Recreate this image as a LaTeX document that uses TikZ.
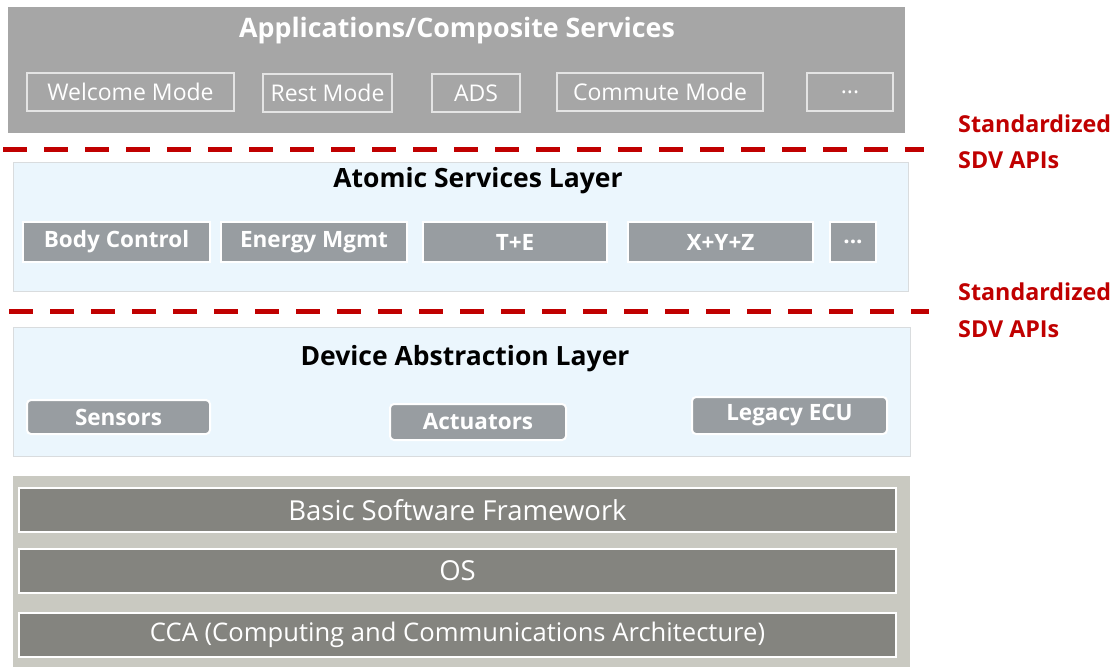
\documentclass[tikz,border=0pt]{standalone}
\usepackage{fontspec}
\setmainfont{Open Sans}
\definecolor{topgray}{HTML}{A6A6A6}
\definecolor{appline}{HTML}{E4E4E4}
\definecolor{sdvred}{HTML}{C00000}
\definecolor{lightblue}{HTML}{EBF6FD}
\definecolor{layerline}{HTML}{D9DCDE}
\definecolor{svcgray}{HTML}{989DA1}
\definecolor{basebg}{HTML}{C9C9C1}
\definecolor{bargray}{HTML}{84847F}
\tikzset{
  box/.style={inner sep=0pt, outer sep=0pt, anchor=center},
  appbox/.style={box, draw=appline, line width=1.2pt, fill=topgray, text=white, font=\fontsize{23}{26}\selectfont},
  layer/.style={box, draw=layerline, line width=1pt, fill=lightblue},
  layertitle/.style={inner sep=0pt, text=black, font=\bfseries\fontsize{26.5}{30}\selectfont},
  svcbox/.style={box, draw=white, line width=2pt, fill=svcgray, text=white, font=\bfseries\fontsize{22.5}{26}\selectfont},
  devbox/.style={svcbox, rounded corners=4pt},
  barbox/.style={box, draw=white, line width=1.5pt, fill=bargray, text=white, font=\fontsize{27.5}{31}\selectfont},
  apiline/.style={draw=sdvred, line width=5pt, dash pattern=on 24pt off 17pt},
  apilabel/.style={inner sep=0pt, anchor=base west, text=sdvred, font=\bfseries\fontsize{23.3}{26}\selectfont},
}
\begin{document}
\begin{tikzpicture}[x=1pt, y=-1pt]
\path[use as bounding box, fill=white] (0,0) rectangle (1119,667);

% Applications layer
\node[box, fill=topgray, minimum width=897pt, minimum height=126pt] (apps) at (456.5,70) {};
\node[inner sep=0pt, text=white, font=\bfseries\fontsize{26.8}{30}\selectfont] (appstitle) at (457,31) {Applications/Composite Services};
\node[appbox, minimum width=207pt, minimum height=38pt] (welcome) at (130.5,92) {Welcome Mode};
\node[appbox, minimum width=129pt, minimum height=38pt] (rest) at (327.5,93) {Rest Mode};
\node[appbox, minimum width=88pt, minimum height=38pt] (ads) at (476,93) {ADS};
\node[appbox, minimum width=206pt, minimum height=38pt] (commute) at (660,92) {Commute Mode};
\node[appbox, minimum width=86pt, minimum height=38pt] (appmore) at (850,92) {...};

% API line 1
\coordinate (api1a) at (3,149);
\coordinate (api1b) at (924,149);
\draw[apiline] (api1a) -- (api1b);
\node[apilabel] (std1) at (958,132) {Standardized};
\node[apilabel] (sdv1) at (958,168) {SDV APIs};

% Atomic services layer
\node[layer, minimum width=895pt, minimum height=129pt] (atomic) at (460.5,226.5) {};
\node[layertitle] (atomictitle) at (478,181) {Atomic Services Layer};
\node[svcbox, minimum width=187pt, minimum height=40pt] (body) at (116.5,242) {Body Control};
\node[svcbox, minimum width=186pt, minimum height=40pt] (energy) at (314,242) {Energy Mgmt};
\node[svcbox, minimum width=184pt, minimum height=40pt] (te) at (515,242) {T+E};
\node[svcbox, minimum width=185pt, minimum height=40pt] (xyz) at (720.5,242) {X+Y+Z};
\node[svcbox, minimum width=46pt, minimum height=40pt] (svcmore) at (853,242) {...};

% API line 2
\coordinate (api2a) at (9,311);
\coordinate (api2b) at (929,311);
\draw[apiline] (api2a) -- (api2b);
\node[apilabel] (std2) at (958,300) {Standardized};
\node[apilabel] (sdv2) at (958,337) {SDV APIs};

% Device abstraction layer
\node[layer, minimum width=897pt, minimum height=129pt] (device) at (461.5,391.5) {};
\node[layertitle] (devicetitle) at (465,359) {Device Abstraction Layer};
\node[devbox, minimum width=183pt, minimum height=34pt] (sensors) at (118.5,417) {Sensors};
\node[devbox, minimum width=176pt, minimum height=36pt] (actuators) at (478,422) {Actuators};
\node[devbox, minimum width=195pt, minimum height=37pt] (legacy) at (789.5,415.5) {Legacy ECU};

% Base platform
\node[box, fill=basebg, minimum width=897pt, minimum height=191pt] (base) at (461.5,571.5) {};
\node[barbox, minimum width=877pt, minimum height=44pt] (bsf) at (457.5,510) {Basic Software Framework};
\node[barbox, minimum width=877pt, minimum height=44pt] (os) at (457.5,571) {OS};
\node[barbox, minimum width=877pt, minimum height=44pt, font=\fontsize{25.6}{29}\selectfont] (cca) at (457.5,635) {CCA (Computing and Communications Architecture)};
\end{tikzpicture}
\end{document}
